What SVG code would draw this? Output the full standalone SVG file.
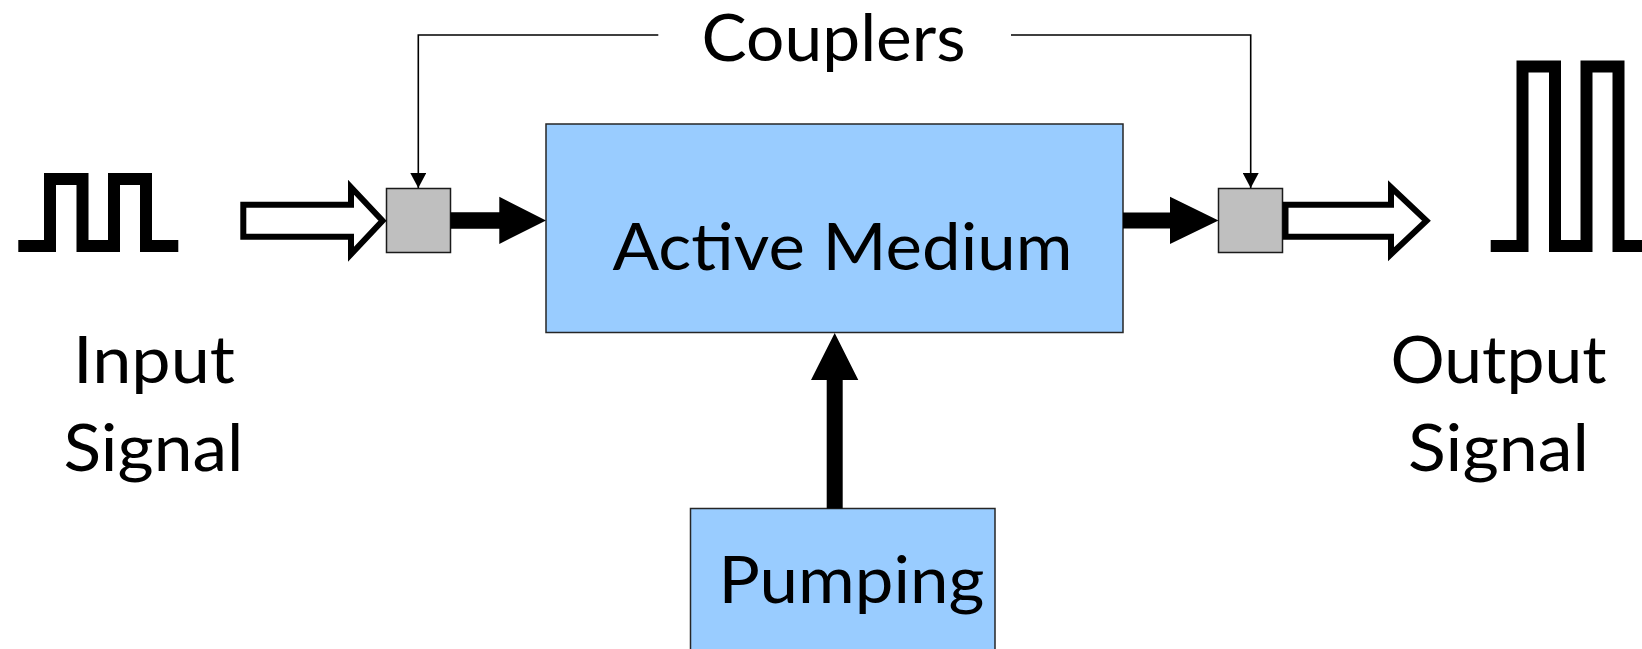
<svg xmlns="http://www.w3.org/2000/svg" width="1642" height="649" viewBox="0 0 1642 649">
  <defs>
    <style>
      .lbl { font-family: Lato, Carlito, "Liberation Sans", sans-serif; font-size: 65px; fill: #000; text-anchor: middle; }
      .blue { fill: #99ccff; stroke: #262626; stroke-width: 1.5; }
      .coupler { fill: #bfbfbf; stroke: #1a1a1a; stroke-width: 1.5; }
      .pulse { fill: none; stroke: #000; stroke-width: 12; stroke-linejoin: miter; stroke-linecap: butt; }
      .hollow { fill: #fff; stroke: #000; stroke-width: 6; stroke-linejoin: miter; stroke-miterlimit: 10; }
      .solid { fill: #000; stroke: none; }
      .thin { fill: none; stroke: #000; stroke-width: 1.6; }
    </style>
    <marker id="thinHead" markerUnits="userSpaceOnUse" markerWidth="16" markerHeight="16" viewBox="0 0 16 16" refX="15" refY="8" orient="auto">
      <path d="M0,0 L15,8 L0,16 Z" fill="#000"/>
    </marker>
  </defs>

  <rect width="1642" height="649" fill="#fff"/>

  <g id="couplers-label">
    <text class="lbl" x="833.6" y="61" textLength="264" lengthAdjust="spacingAndGlyphs">Couplers</text>
  </g>

  <g id="active-medium">
    <rect class="blue" x="546" y="124" width="577" height="208.5"/>
    <text class="lbl" x="842.5" y="270" textLength="460" lengthAdjust="spacingAndGlyphs">Active Medium</text>
  </g>

  <g id="pumping">
    <rect class="blue" x="690.5" y="508.5" width="304.5" height="160"/>
    <text class="lbl" x="851.4" y="603.3" textLength="266" lengthAdjust="spacingAndGlyphs">Pumping</text>
  </g>

  <g id="coupler-in">
    <rect class="coupler" x="386.5" y="188.5" width="64" height="64"/>
  </g>

  <g id="coupler-out">
    <rect class="coupler" x="1218.5" y="188.5" width="64" height="64"/>
  </g>

  <g id="input-signal">
    <path class="pulse" d="M18.3,246 H50 V179 H82.5 V246 H114 V179 H146 V246 H178.3"/>
    <text class="lbl" x="154" y="383" textLength="162" lengthAdjust="spacingAndGlyphs">Input</text>
    <text class="lbl" x="153.4" y="471" textLength="180" lengthAdjust="spacingAndGlyphs">Signal</text>
  </g>

  <g id="output-signal">
    <path class="pulse" d="M1490.7,246 H1522.5 V66.5 H1555 V246 H1586.5 V66.5 H1618.5 V246 H1645"/>
    <text class="lbl" x="1498.5" y="383.3" textLength="216" lengthAdjust="spacingAndGlyphs">Output</text>
    <text class="lbl" x="1498.5" y="471" textLength="181" lengthAdjust="spacingAndGlyphs">Signal</text>
  </g>

  <g id="connectors">
    <path class="thin" d="M658.3,35 H418.3 V188" marker-end="url(#thinHead)"/>
    <path class="thin" d="M1011,35 H1250.7 V188" marker-end="url(#thinHead)"/>
    <polygon class="hollow" points="243.3,204.7 351,204.7 351,187.2 382.5,220.7 351,254.2 351,236.7 243.3,236.7"/>
    <polygon class="hollow" points="1285.5,204.7 1391,204.7 1391,187.2 1426.5,220.7 1391,254.2 1391,236.7 1285.5,236.7"/>
    <path class="solid" d="M450.5,212.3 H499.3 V196.7 L546,220.5 L499.3,244 V228.7 H450.5 Z"/>
    <path class="solid" d="M1123,212.5 H1170 V196.7 L1218.5,220.5 L1170,244 V228.5 H1123 Z"/>
    <path class="solid" d="M826.7,508.5 V380 H811 L834.7,333 L858.3,380 H842.7 V508.5 Z"/>
  </g>
</svg>
